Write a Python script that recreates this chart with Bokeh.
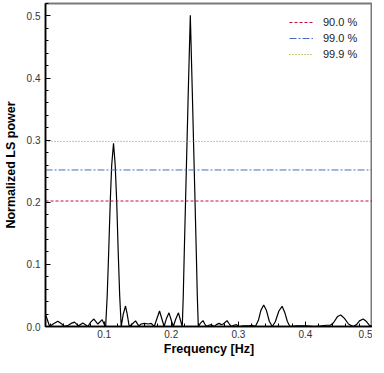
from bokeh.plotting import figure
from bokeh.models import Range1d, FixedTicker, PrintfTickFormatter, Legend, LegendItem
from bokeh.embed import file_html
from bokeh.resources import INLINE

freq = [0.0125, 0.0149, 0.0187, 0.0239, 0.0309, 0.0358, 0.0407, 0.0463, 0.0507, 0.0557,
        0.0616, 0.0682, 0.0757, 0.0799, 0.0846, 0.0906, 0.0970, 0.1007, 0.1022, 0.1045,
        0.1067, 0.1090, 0.1112, 0.1139, 0.1164, 0.1187, 0.1209, 0.1231, 0.1254, 0.1284,
        0.1318, 0.1343, 0.1373, 0.1418, 0.1467, 0.1515, 0.1552, 0.1597, 0.1657, 0.1701,
        0.1746, 0.1784, 0.1825, 0.1866, 0.1893, 0.1925, 0.1966, 0.2000, 0.2030, 0.2067,
        0.2107, 0.2142, 0.2164, 0.2179, 0.2194, 0.2224, 0.2254, 0.2284, 0.2313, 0.2343,
        0.2373, 0.2388, 0.2403, 0.2433, 0.2473, 0.2500, 0.2522, 0.2560, 0.2597, 0.2642,
        0.2672, 0.2712, 0.2746, 0.2776, 0.2831, 0.2866, 0.2896, 0.2933, 0.2970, 0.3015,
        0.3075, 0.3149, 0.3209, 0.3254, 0.3299, 0.3336, 0.3378, 0.3418, 0.3463, 0.3507,
        0.3552, 0.3604, 0.3652, 0.3694, 0.3731, 0.3769, 0.3866, 0.4015, 0.4134, 0.4239,
        0.4313, 0.4373, 0.4418, 0.4478, 0.4527, 0.4582, 0.4642, 0.4712, 0.4761, 0.4806,
        0.4861, 0.4910, 0.4955, 0.5000]

power = [0.019, 0.012, 0.000, 0.004, 0.0086, 0.005, 0.000, 0.002, 0.005, 0.007,
         0.001, 0.0055, 0.000, 0.007, 0.012, 0.004, 0.011, 0.002, 0.000, 0.050,
         0.120, 0.200, 0.260, 0.295, 0.260, 0.200, 0.120, 0.050, 0.000, 0.020,
         0.033, 0.020, 0.000, 0.004, 0.009, 0.001, 0.004, 0.005, 0.004, 0.005,
         0.000, 0.012, 0.025, 0.010, 0.000, 0.012, 0.022, 0.010, 0.000, 0.012,
         0.022, 0.008, 0.000, 0.050, 0.120, 0.250, 0.380, 0.501, 0.380, 0.250,
         0.120, 0.050, 0.000, 0.005, 0.0095, 0.004, 0.000, 0.002, 0.003, 0.000,
         0.003, 0.005, 0.003, 0.004, 0.0095, 0.004, 0.000, 0.002, 0.003, 0.000,
         0.001, 0.001, 0.002, 0.000, 0.010, 0.026, 0.0345, 0.026, 0.008, 0.000,
         0.008, 0.025, 0.0325, 0.022, 0.008, 0.000, 0.001, 0.001, 0.000, 0.001,
         0.002, 0.002, 0.006, 0.016, 0.0186, 0.013, 0.004, 0.000, 0.003, 0.009,
         0.012, 0.008, 0.002, 0.000]

levels = [0.202, 0.252, 0.298]
level_labels = ["90.0 %", "99.0 %", "99.9 %"]
level_colors = ["#c4103c", "#4a6fc0", "#8f9900"]
level_dashes = ["3 2", "7 2 2 2", "1 2"]

x_ticks = [0.1, 0.2, 0.3, 0.4, 0.5]
y_ticks = [0.0, 0.1, 0.2, 0.3, 0.4, 0.5]

p = figure(frame_width=327, frame_height=323, output_backend="svg", toolbar_location=None,
           x_range=Range1d(0.0125, 0.5), y_range=Range1d(0.0, 0.52),
           min_border_left=41, min_border_right=0, min_border_top=3, min_border_bottom=0)

p.xgrid.visible = False
p.ygrid.visible = False
p.outline_line_color = "#7a7a7a"
p.outline_line_width = 2

p.line(freq, power, line_color="black", line_width=1.2)

items = []
for lv, lab, col, dash in zip(levels, level_labels, level_colors, level_dashes):
    r = p.line([freq[0], freq[-1]], [lv, lv], line_color=col, line_width=1, line_dash=dash)
    items.append(LegendItem(label=lab, renderers=[r]))

legend = Legend(items=items, location=(244, 265), border_line_color=None,
                background_fill_alpha=0, label_text_font="Liberation Sans",
                label_text_font_size="11px", label_text_color="#222222",
                glyph_width=24, glyph_height=14, spacing=2, padding=5, margin=0,
                label_standoff=10, label_height=14)
p.add_layout(legend)

for ax in (p.xaxis[0], p.yaxis[0]):
    ax.axis_line_color = "black"
    ax.axis_line_width = 1.5
    ax.major_tick_in = 5
    ax.major_tick_out = 0
    ax.minor_tick_in = 3
    ax.minor_tick_out = 0
    ax.major_tick_line_color = "black"
    ax.minor_tick_line_color = "black"
    ax.major_label_text_font = "Liberation Sans"
    ax.major_label_text_font_size = "10px"
    ax.major_label_text_color = "#333333"
    ax.axis_label_text_font = "Liberation Sans"
    ax.axis_label_text_font_size = "12.5px"
    ax.axis_label_text_font_style = "bold"
    ax.axis_label_text_color = "black"
    ax.formatter = PrintfTickFormatter(format="%.1f")

p.xaxis[0].major_label_standoff = 3
p.xaxis[0].axis_label_standoff = 1
p.yaxis[0].major_label_standoff = 5
p.yaxis[0].axis_label_standoff = 6

p.xaxis[0].ticker = FixedTicker(ticks=x_ticks, minor_ticks=[round(0.02 * i, 2) for i in range(1, 26)])
p.yaxis[0].ticker = FixedTicker(ticks=y_ticks, minor_ticks=[round(0.02 * i, 2) for i in range(0, 27)])
p.xaxis[0].axis_label = "Frequency [Hz]"
p.yaxis[0].axis_label = "Normalized LS power"

open("out.html", "w").write(file_html(p, INLINE))
